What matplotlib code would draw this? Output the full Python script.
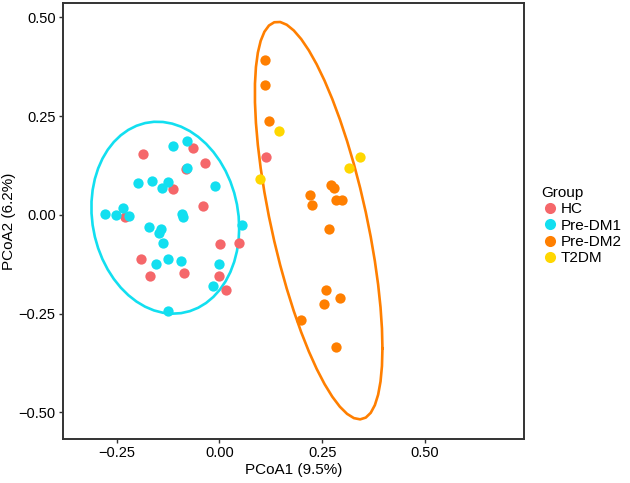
import numpy as np
import matplotlib
matplotlib.use("Agg")
import matplotlib.pyplot as plt
from matplotlib.lines import Line2D

plt.rcParams['font.family'] = ['Liberation Sans', 'DejaVu Sans']

# PCoA coordinates
hc_x = [-0.185, -0.065, -0.036, -0.080, -0.112, -0.040, -0.229, 0.002, 0.047,
        -0.191, -0.169, -0.086, -0.001, 0.015, 0.114]
hc_y = [0.155, 0.168, 0.132, 0.116, 0.065, 0.023, -0.006, -0.075, -0.072,
        -0.111, -0.154, -0.146, -0.154, -0.190, 0.146]

dm1_x = [-0.114, -0.079, -0.079, -0.197, -0.163, -0.139, -0.124, -0.010, -0.277,
         -0.252, -0.235, -0.219, -0.090, -0.089, 0.055, -0.172, -0.147, -0.141,
         -0.137, -0.155, -0.126, -0.093, -0.001, -0.015, -0.126]
dm1_y = [0.173, 0.187, 0.118, 0.081, 0.085, 0.068, 0.084, 0.072, 0.003,
         0.000, 0.018, -0.002, 0.003, -0.006, -0.025, -0.030, -0.045, -0.035,
         -0.071, -0.124, -0.111, -0.116, -0.125, -0.179, -0.243]

dm2_x = [0.111, 0.110, 0.120, 0.272, 0.278, 0.221, 0.226, 0.284, 0.299, 0.266,
         0.260, 0.254, 0.293, 0.199, 0.284]
dm2_y = [0.392, 0.329, 0.237, 0.076, 0.067, 0.051, 0.025, 0.037, 0.038, -0.037,
         -0.189, -0.225, -0.210, -0.265, -0.334]

t2_x = [0.145, 0.099, 0.314, 0.342]
t2_y = [0.213, 0.091, 0.118, 0.147]

groups = ["HC", "Pre-DM1", "Pre-DM2", "T2DM"]
colors = {"HC": "#F5676A", "Pre-DM1": "#12DFF0", "Pre-DM2": "#FF7F00", "T2DM": "#FFD700"}


def cov_trob(x, nu=5, maxit=25, tol=0.01):
    # port of MASS::cov.trob, as used by ggplot2 stat_ellipse(type="t")
    n, p = x.shape
    loc = x.mean(axis=0)
    w = np.ones(n)
    for _ in range(maxit):
        w0 = w
        X = x - loc
        _, d, vt = np.linalg.svd(np.sqrt(w / w.sum())[:, None] * X, full_matrices=False)
        wX = X @ vt.T @ np.diag(1 / d)
        Q = (wX ** 2).sum(axis=1)
        w = (nu + p) / (nu + Q)
        loc = (w[:, None] * x).sum(axis=0) / w.sum()
        if np.all(np.abs(w - w0) < tol):
            break
    X = x - loc
    cov = (np.sqrt(w)[:, None] * X).T @ (np.sqrt(w)[:, None] * X) / n
    return cov, loc


def t_ellipse(xs, ys, level=0.95, segments=51):
    x = np.column_stack([xs, ys])
    cov, center = cov_trob(x)
    dfd = len(xs) - 1
    fq = dfd / 2 * ((1 - level) ** (-2 / dfd) - 1)  # qf(level, 2, dfd)
    radius = np.sqrt(2 * fq)
    chol = np.linalg.cholesky(cov).T
    ang = np.linspace(0, 2 * np.pi, segments + 1)
    circ = np.column_stack([np.cos(ang), np.sin(ang)])
    return center + radius * circ @ chol


fig = plt.figure(figsize=(6.3, 4.83), dpi=100)
ax = fig.add_axes([0.0995, 0.0905, 0.7325, 0.904])

for gx, gy, g in [(hc_x, hc_y, "HC"), (dm1_x, dm1_y, "Pre-DM1"),
                  (dm2_x, dm2_y, "Pre-DM2"), (t2_x, t2_y, "T2DM")]:
    ax.scatter(gx, gy, s=55, color=colors[g], linewidths=0, zorder=3)

for gx, gy, g in [(dm1_x, dm1_y, "Pre-DM1"), (dm2_x, dm2_y, "Pre-DM2")]:
    e = t_ellipse(gx, gy)
    ax.plot(e[:, 0], e[:, 1], color=colors[g], lw=1.9, zorder=2)

ax.set_xlim(-0.381, 0.741)
ax.set_ylim(-0.568, 0.537)
ax.set_xticks([-0.25, 0.0, 0.25, 0.5])
ax.set_xticklabels(["\u22120.25", "0.00", "0.25", "0.50"])
ax.set_yticks([-0.5, -0.25, 0.0, 0.25, 0.5])
ax.set_yticklabels(["\u22120.50", "\u22120.25", "0.00", "0.25", "0.50"])
ax.tick_params(length=3, width=1, color="#333333", labelsize=10.5, labelcolor="black", pad=2)
for s in ax.spines.values():
    s.set_color("#333333")
    s.set_linewidth(1.4)
ax.set_xlabel("PCoA1 (9.5%)", fontsize=11, labelpad=2)
ax.set_ylabel("PCoA2 (6.2%)", fontsize=11, labelpad=2)

handles = [Line2D([], [], marker="o", ls="", markersize=8, color=colors[g],
                  markeredgewidth=0) for g in groups]
fig.legend(handles, groups, title="Group", loc="upper left",
           bbox_to_anchor=(535 / 630, 1 - 180 / 483), frameon=False,
           fontsize=11, title_fontsize=11, alignment="left",
           handletextpad=0.1, labelspacing=0.15, borderaxespad=0, handlelength=1.2)

fig.savefig("out.png", dpi=100)
